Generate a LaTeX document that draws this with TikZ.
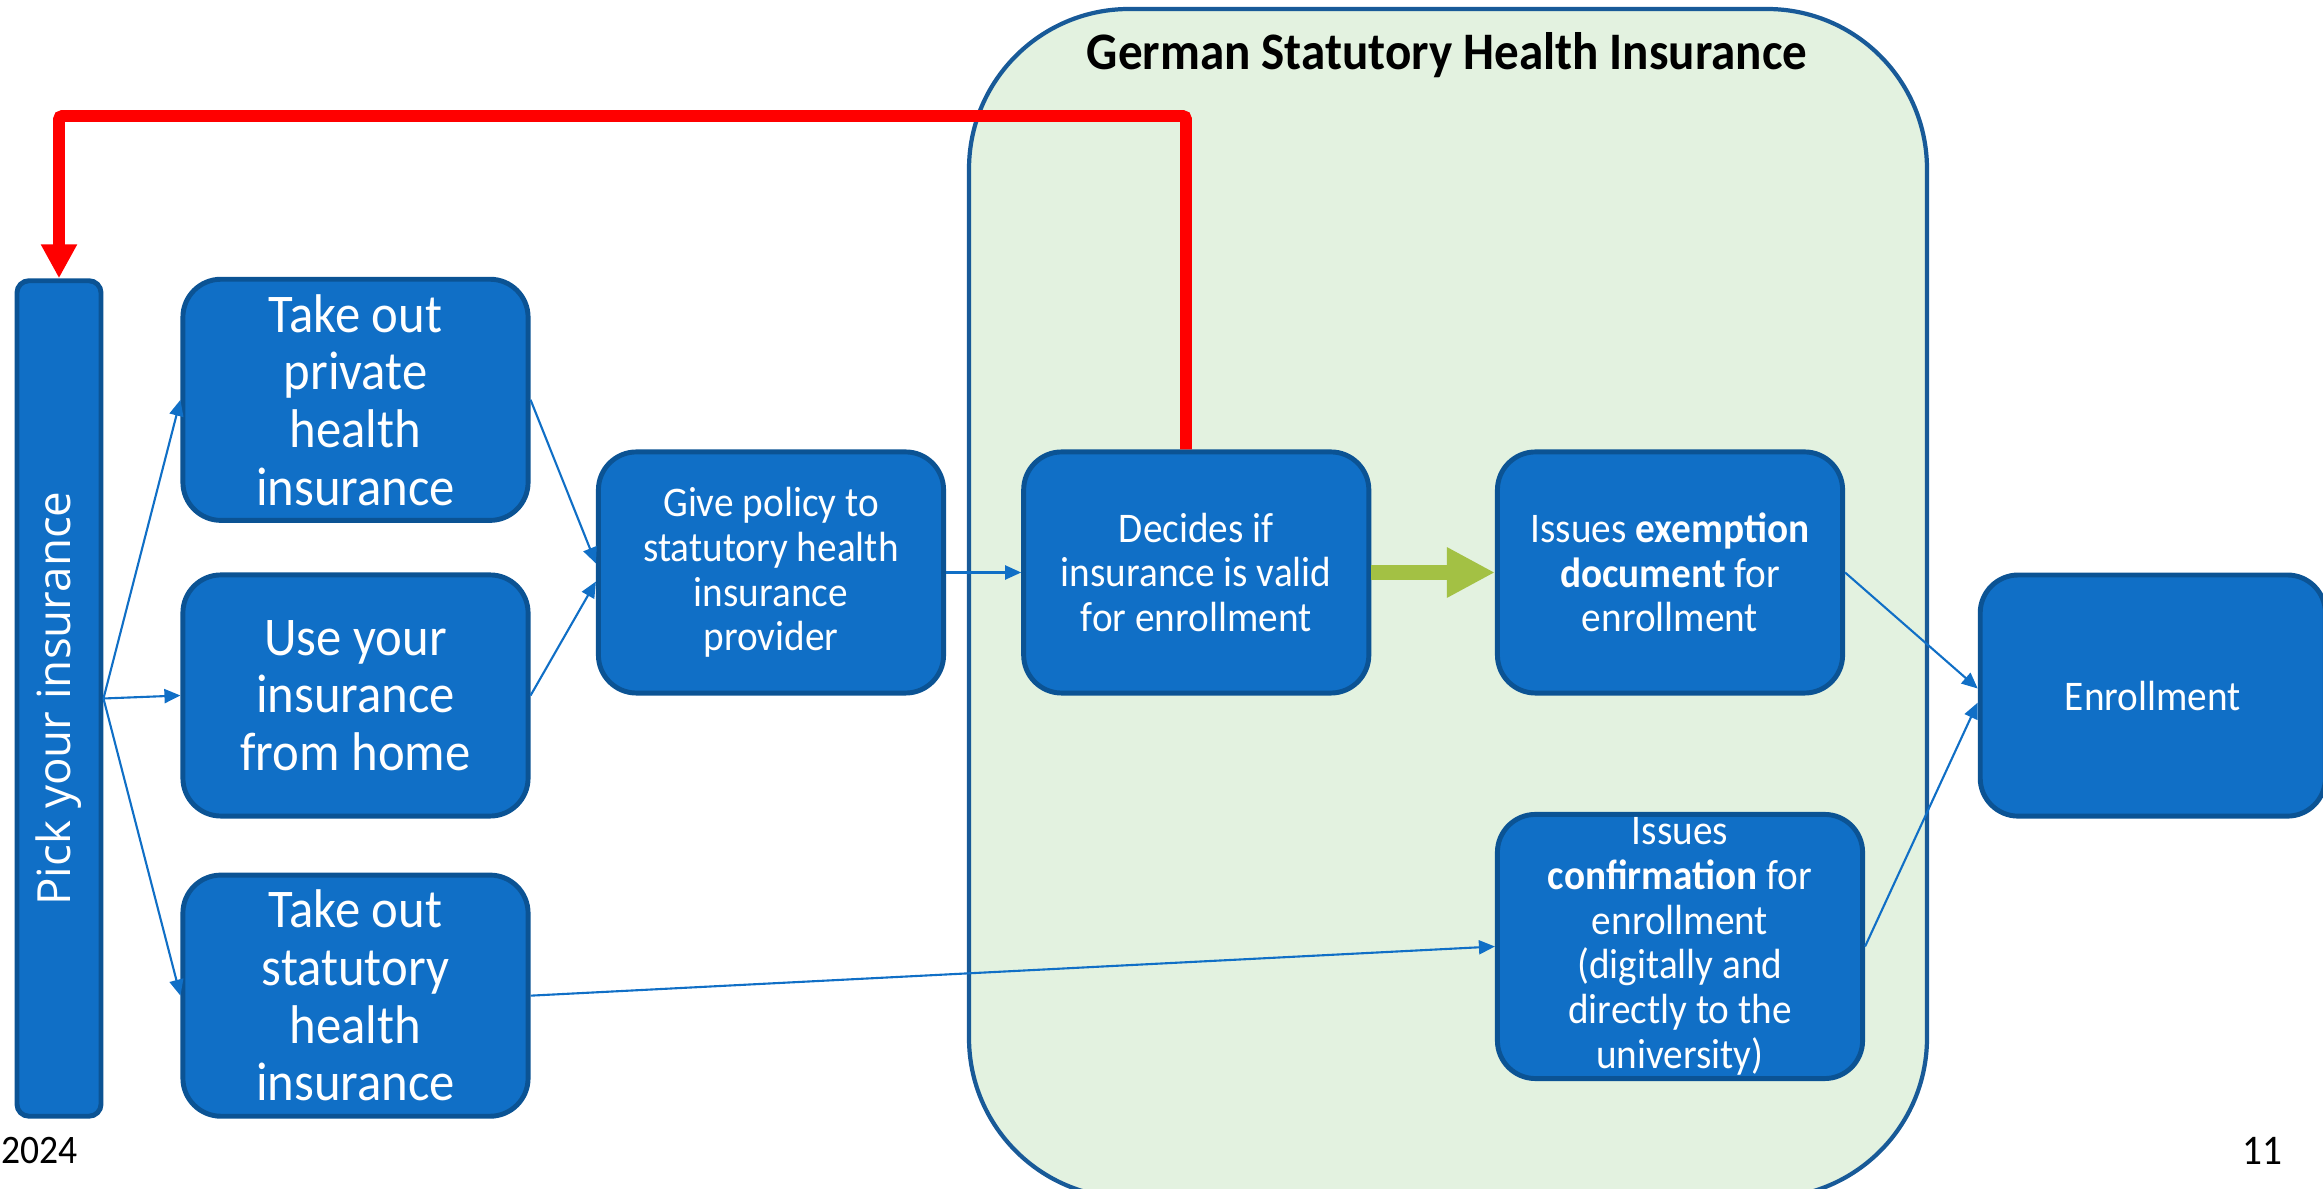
\documentclass[tikz,border=0pt]{standalone}
\usepackage{fontspec}
\setmainfont{Carlito}[FakeStretch=0.93]
\newfontfamily\pickfont{Open Sans}
\usepackage{graphicx}
\usetikzlibrary{positioning,arrows.meta}
\definecolor{boxblue}{HTML}{106FC6}
\definecolor{boxedge}{HTML}{0B5394}
\definecolor{shiedge}{HTML}{185A98}
\definecolor{shifill}{HTML}{E3F2E0}
\definecolor{okgreen}{HTML}{A3C144}

\begin{document}
\begin{tikzpicture}[x=0.01cm, y=-0.01cm, on grid, node distance=3cm,
  box/.style={draw=boxedge, line width=1.4pt, fill=boxblue, text=white, rounded corners=0.38cm,
    minimum width=3.45cm, minimum height=2.41cm, inner sep=0pt, align=center,
    font=\fontsize{12pt}{12.7pt}\selectfont},
  bigbox/.style={box, font=\fontsize{15.5pt}{16.4pt}\selectfont},
  bar/.style={box, rounded corners=0.12cm, minimum width=0.84cm, minimum height=8.35cm},
  flow/.style={-{Triangle[length=1.6mm,width=1.4mm]}, boxblue, line width=0.6pt},
  backline/.style={-{Triangle[length=3.4mm,width=3.4mm]}, red, line width=3.4pt, rounded corners=1pt},
  okarrow/.style={-{Triangle[length=4.8mm,width=4.7mm]}, okgreen, line width=4.5pt}]
\clip (0,0) rectangle (2323,1189);

% statutory insurance frame
\draw[draw=shiedge, fill=shifill, line width=1.2pt, rounded corners=1.6cm] (969,9) rectangle (1927,1198);
\node[font=\bfseries\fontsize{15pt}{18pt}\selectfont, anchor=base] (shititle) at (1447,70) {German Statutory Health Insurance};

% choice
\node[bar] (pick) at (59,698.5) {\rotatebox{90}{\pickfont\fontsize{13pt}{15pt}\selectfont Pick your insurance}};
\node[bigbox] (home) at (355.5,695.5) {Use your\\insurance\\from home};
\node[bigbox, above=2.955cm of home] (private) {Take out\\private\\health\\insurance};
\node[bigbox, below=3cm of home] (statutory) {Take out\\statutory\\health\\insurance};

% steps
\node[box] (give) at (771,572.5) {Give policy to\\statutory health\\insurance\\provider};
\node[box, right=4.25cm of give] (decides) {Decides if\\insurance is valid\\for enrollment};
\node[box, right=4.735cm of decides] (exemption) {Issues \textbf{exemption}\\\textbf{document} for\\enrollment};
\node[box, minimum width=3.65cm, minimum height=2.64cm] (confirm) at (1680,946.5)
  {Issues\\\textbf{confirmation} for\\enrollment\\(digitally and\\directly to the\\university)};
\node[box, below right=1.23cm and 4.825cm of exemption] (enrol) {Enrollment};

\path[flow]
(pick.east) edge (private.west)
	edge (home.west)
	edge (statutory.west)
(private.east) edge ([yshift=0.09cm]give.west)
(home.east) edge ([yshift=-0.09cm]give.west)
(give.east) edge (decides.west)
(exemption.east) edge ([yshift=0.07cm]enrol.west)
(confirm.east) edge ([yshift=-0.07cm]enrol.west)
(statutory.east) edge (confirm.west);

\draw[okarrow] (decides.east) -- (exemption.west);

\coordinate (back) at (1186,116);
\draw[backline] (decides.north -| back) -- (back) -| (pick.north);

% footer
\node[anchor=west, inner sep=0pt, font=\fontsize{11.5pt}{14pt}\selectfont] (year) at (1,1151) {2024};
\node[font=\fontsize{12pt}{14pt}\selectfont] (pageno) at (2262,1151) {11};
\end{tikzpicture}
\end{document}
